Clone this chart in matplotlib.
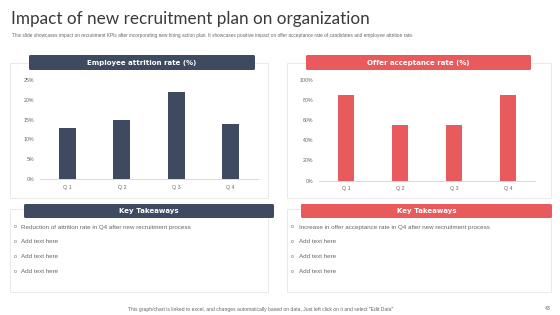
import numpy as np
import matplotlib.pyplot as plt
from matplotlib.patches import Rectangle, FancyBboxPatch

# data
quarters = ['Q 1', 'Q 2', 'Q 3', 'Q 4']
attrition = [13, 15, 22, 14]
acceptance = [85, 55, 55, 85]
left_points = ['Reduction of attrition rate in Q4 after new recruitment process',
               'Add text here', 'Add text here', 'Add text here']
right_points = ['Increase in offer acceptance rate in Q4 after new recruitment process',
                'Add text here', 'Add text here', 'Add text here']

NAVY = '#3D4A5F'
CORAL = '#E95A5C'
GREY = '#666666'
W, H = 560, 315

fig = plt.figure(figsize=(5.6, 3.15), dpi=100)
fig.patch.set_facecolor('white')

# background canvas in pixel coords
bg = fig.add_axes([0, 0, 1, 1])
bg.set_xlim(0, W)
bg.set_ylim(H, 0)
bg.axis('off')

bg.text(11, 19, 'Impact of new recruitment plan on organization', fontsize=12.3,
        color='#3a3a3a', va='center', ha='left', family='Lato')
bg.text(12, 36, 'This slide showcases impact on recruitment KPIs after incorporating new hiring action plan. '
        'It showcases positive impact on offer acceptance rate of candidates and employee attrition rate.',
        fontsize=3.45, color=GREY, va='center', ha='left', family='Liberation Sans')

# panel boxes
for x0, x1 in [(10, 268), (287, 551)]:
    bg.add_patch(Rectangle((x0, 63), x1 - x0, 135, fill=False, ec='#E6E6E6', lw=0.6))
    bg.add_patch(Rectangle((x0, 209), x1 - x0, 83, fill=False, ec='#E6E6E6', lw=0.6))


def header(x0, x1, y0, y1, color, label):
    bg.add_patch(FancyBboxPatch((x0, y0), x1 - x0, y1 - y0, boxstyle='round,pad=0,rounding_size=1.5',
                                fc=color, ec='none'))
    bg.text((x0 + x1) / 2, (y0 + y1) / 2 + 0.5, label, color='white', fontsize=5.0, fontweight='bold',
            ha='center', va='center', family='DejaVu Sans')


header(29, 255, 55, 70, NAVY, 'Employee attrition rate (%)')
header(306, 531, 55, 70, CORAL, 'Offer acceptance rate (%)')
header(24, 274, 204, 218, NAVY, 'Key Takeaways')
header(301, 552, 204, 218, CORAL, 'Key Takeaways')

for i, t in enumerate(left_points):
    y = 227 + i * 14.7
    bg.text(15, y, 'o', fontsize=3.5, color=GREY, ha='center', va='center', family='Liberation Sans')
    bg.text(21, y, t, fontsize=4.5, color=GREY, ha='left', va='center', family='Liberation Sans')
for i, t in enumerate(right_points):
    y = 227 + i * 14.7
    bg.text(292, y, 'o', fontsize=3.5, color=GREY, ha='center', va='center', family='Liberation Sans')
    bg.text(299, y, t, fontsize=4.5, color=GREY, ha='left', va='center', family='Liberation Sans')

bg.text(261, 309, 'This graph/chart is linked to excel, and changes automatically based on data. '
        'Just left click on it and select "Edit Data"', fontsize=3.6, color=GREY,
        ha='center', va='center', family='Liberation Sans')
bg.text(548, 308, '43', fontsize=3.8, color=GREY, ha='center', va='center', family='Liberation Sans')


def bar_chart(rect, values, color, ymax, step):
    ax = fig.add_axes(rect)
    x = np.arange(len(values))
    ax.bar(x, values, width=0.31, color=color)
    ax.set_xlim(-0.5, len(values) - 0.5)
    ax.set_ylim(0, ymax)
    ax.set_yticks(np.arange(0, ymax + 1, step))
    ax.set_yticklabels([f'{v}%' for v in np.arange(0, ymax + 1, step)])
    ax.set_xticks(x)
    ax.set_xticklabels(quarters)
    for s in ['top', 'right', 'left']:
        ax.spines[s].set_visible(False)
    ax.spines['bottom'].set_color('#D9D9D9')
    ax.spines['bottom'].set_linewidth(0.7)
    ax.tick_params(length=0, labelsize=3.8, labelcolor=GREY, pad=4)
    for lab in ax.get_xticklabels() + ax.get_yticklabels():
        lab.set_family('Liberation Sans')
    ax.patch.set_alpha(0)
    return ax


bar_chart([40 / W, 1 - 179 / H, 218 / W, 99 / H], attrition, NAVY, 25, 5)
bar_chart([319 / W, 1 - 180.7 / H, 216 / W, 101 / H], acceptance, CORAL, 100, 20)

plt.savefig('out.png', dpi=100)
